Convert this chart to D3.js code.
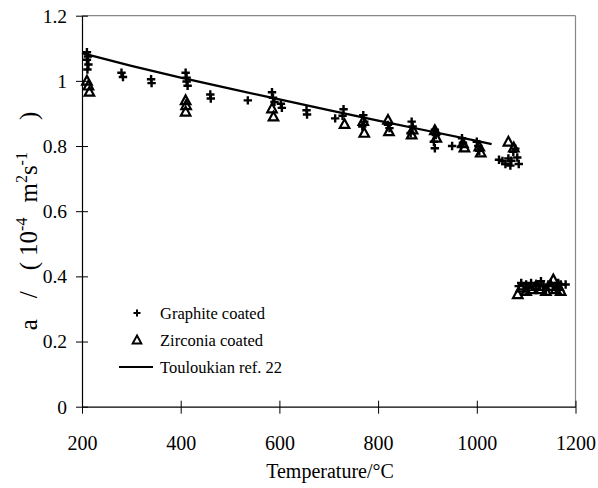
<!DOCTYPE html>
<html>
<head>
<meta charset="utf-8">
<script src="https://cdn.jsdelivr.net/npm/d3@7/dist/d3.min.js"></script>
<style>
  html, body { margin: 0; padding: 0; background: #fff; }
  svg { display: block; }
  svg text { font-family: "Liberation Serif", "DejaVu Serif", Times, serif !important; }
</style>
</head>
<body>
<svg id="chart" width="598" height="488"></svg>
<script>
// ---- data ----
const xTicks = [200, 400, 600, 800, 1000, 1200];
const yTicks = [0, 0.2, 0.4, 0.6, 0.8, 1, 1.2];

const graphiteT = [210, 212, 210, 213, 211, 280, 283, 340, 341, 410, 412, 412, 414, 460, 461, 536,
  585, 587, 590, 603, 605, 655, 656, 713, 730, 728, 770, 772, 768, 820, 823, 868, 870, 866,
  915, 917, 913, 915, 950, 970, 972, 968, 1000, 1003, 1005,
  1045, 1052, 1058, 1064, 1068, 1074, 1078, 1082, 1085, 1070,
  1085, 1090, 1095, 1100, 1105, 1110, 1115, 1120, 1125, 1130, 1135, 1140, 1145, 1150, 1155, 1160, 1165, 1170, 1180];
const graphiteA = [1.088, 1.075, 1.065, 1.05, 1.035, 1.025, 1.012, 1.005, 0.993, 1.025, 1.01, 0.998, 0.985, 0.958, 0.946, 0.94,
  0.965, 0.948, 0.935, 0.93, 0.917, 0.91, 0.897, 0.885, 0.913, 0.893, 0.895, 0.875, 0.86, 0.865, 0.855, 0.875, 0.86, 0.84,
  0.85, 0.834, 0.813, 0.793, 0.80, 0.824, 0.81, 0.798, 0.813, 0.80, 0.785,
  0.758, 0.754, 0.745, 0.762, 0.74, 0.782, 0.792, 0.765, 0.745, 0.755,
  0.37, 0.38, 0.36, 0.375, 0.365, 0.38, 0.37, 0.36, 0.375, 0.385, 0.37, 0.36, 0.375, 0.38, 0.37, 0.365, 0.38, 0.375, 0.375];

const zirconiaT = [210, 213, 215, 410, 411, 410, 585, 588, 732, 770, 772, 820, 822, 870, 868, 915, 918,
  972, 975, 1005, 1008, 1064, 1075,
  1083, 1090, 1100, 1110, 1120, 1130, 1140, 1150, 1155, 1160, 1165, 1170];
const zirconiaA = [1.0, 0.985, 0.966, 0.94, 0.925, 0.905, 0.915, 0.89, 0.867, 0.876, 0.84, 0.88, 0.845, 0.85, 0.835, 0.848, 0.825,
  0.808, 0.795, 0.798, 0.78, 0.813, 0.795,
  0.345, 0.365, 0.355, 0.36, 0.37, 0.36, 0.355, 0.37, 0.39, 0.36, 0.37, 0.355];

const refT = [200, 300, 400, 500, 600, 700, 800, 900, 1000, 1030];
const refA = [1.085, 1.046, 1.010, 0.976, 0.943, 0.910, 0.878, 0.847, 0.816, 0.806];

const legendLabels = ["Graphite coated", "Zirconia coated", "Touloukian ref. 22"];

// ---- layout ----
const FONT = '"Liberation Serif", "DejaVu Serif", Times, serif';
const svg = d3.select("#chart");
const x = d3.scaleLinear().domain([200, 1200]).range([82, 575.5]);
const y = d3.scaleLinear().domain([0, 1.2]).range([406.7, 15.7]);

// frame (top & right, grey)
svg.append("line").attr("x1", x(200)).attr("x2", x(1200)).attr("y1", y(1.2)).attr("y2", y(1.2))
  .attr("stroke", "#888").attr("stroke-width", 1.2);
svg.append("line").attr("x1", x(1200)).attr("x2", x(1200)).attr("y1", y(1.2)).attr("y2", y(0))
  .attr("stroke", "#888").attr("stroke-width", 1.2);

// x axis
const xAxis = d3.axisBottom(x).tickValues(xTicks).tickSize(0).tickPadding(0).tickFormat(d3.format("d"));
const gx = svg.append("g").attr("transform", `translate(0,${y(0)})`).call(xAxis).attr("font-family", FONT);
gx.select(".domain").attr("stroke", "#000").attr("stroke-width", 1.2);
gx.selectAll(".tick line").remove();
gx.selectAll(".tick").append("line").attr("y1", -6).attr("y2", 7).attr("stroke", "#000").attr("stroke-width", 1);
gx.selectAll(".tick text").attr("y", 43).attr("dy", 0).attr("font-size", 20).attr("fill", "#000");

// y axis
const yAxis = d3.axisLeft(y).tickValues(yTicks).tickSize(0).tickPadding(0).tickFormat(d => d3.format("~g")(d));
const gy = svg.append("g").attr("transform", `translate(${x(200)},0)`).call(yAxis).attr("font-family", FONT);
gy.select(".domain").attr("stroke", "#000").attr("stroke-width", 1.2);
gy.selectAll(".tick line").remove();
gy.selectAll(".tick").append("line").attr("x1", -6).attr("x2", 6).attr("stroke", "#000").attr("stroke-width", 1);
gy.selectAll(".tick text").attr("x", -15).attr("dy", "0.33em").attr("font-size", 19.5).attr("fill", "#000");

// axis titles
svg.append("text").attr("x", 330).attr("y", 478).attr("text-anchor", "middle")
  .attr("font-size", 20).attr("font-family", FONT).text("Temperature/°C");

const yt = svg.append("text").attr("transform", "translate(37,221) rotate(-90)")
  .attr("text-anchor", "middle").attr("font-size", 25).attr("font-family", FONT);
yt.append("tspan").text("a");
yt.append("tspan").attr("dx", 21).text("/");
yt.append("tspan").attr("dx", 21).text("(");
yt.append("tspan").attr("dx", 6).text("10");
yt.append("tspan").attr("font-size", 16).attr("dy", -10).text("-4");
yt.append("tspan").attr("dy", 10).attr("dx", 15).text("m");
yt.append("tspan").attr("font-size", 16).attr("dy", -10).text("2");
yt.append("tspan").attr("dy", 10).text("s");
yt.append("tspan").attr("font-size", 16).attr("dy", -10).text("-1");
yt.append("tspan").attr("dy", 10).attr("dx", 32).text(")");

// reference line
const line = d3.line().x((d, i) => x(refT[i])).y((d, i) => y(refA[i]));
svg.append("path").datum(refT).attr("d", line).attr("fill", "none").attr("stroke", "#000").attr("stroke-width", 2.2);

// markers
const plusPath = s => `M${-s},0H${s}M0,${-s}V${s}`;
const triPath = s => `M0,${-s}L${s * 0.95},${s * 0.75}L${-s * 0.95},${s * 0.75}Z`;

svg.append("g").selectAll("path").data(zirconiaT).join("path")
  .attr("transform", (d, i) => `translate(${x(d)},${y(zirconiaA[i])})`)
  .attr("d", triPath(5)).attr("fill", "none").attr("stroke", "#000").attr("stroke-width", 2.2);

svg.append("g").selectAll("path").data(graphiteT).join("path")
  .attr("transform", (d, i) => `translate(${x(d)},${y(graphiteA[i])})`)
  .attr("d", plusPath(4.2)).attr("fill", "none").attr("stroke", "#000").attr("stroke-width", 2.4);

// legend
const lg = svg.append("g").attr("font-size", 16.5).attr("font-family", FONT);
const ly = [313, 340, 367];
lg.append("path").attr("transform", `translate(137,${ly[0]})`).attr("d", plusPath(3.5))
  .attr("stroke", "#000").attr("stroke-width", 2);
lg.append("path").attr("transform", `translate(137,${ly[1]})`).attr("d", triPath(4.5))
  .attr("fill", "none").attr("stroke", "#000").attr("stroke-width", 2);
lg.append("line").attr("x1", 119).attr("x2", 153).attr("y1", ly[2]).attr("y2", ly[2])
  .attr("stroke", "#000").attr("stroke-width", 2);
legendLabels.forEach((t, i) => {
  lg.append("text").attr("x", 160).attr("y", ly[i]).attr("dy", "0.35em").text(t);
});
</script>
</body>
</html>
